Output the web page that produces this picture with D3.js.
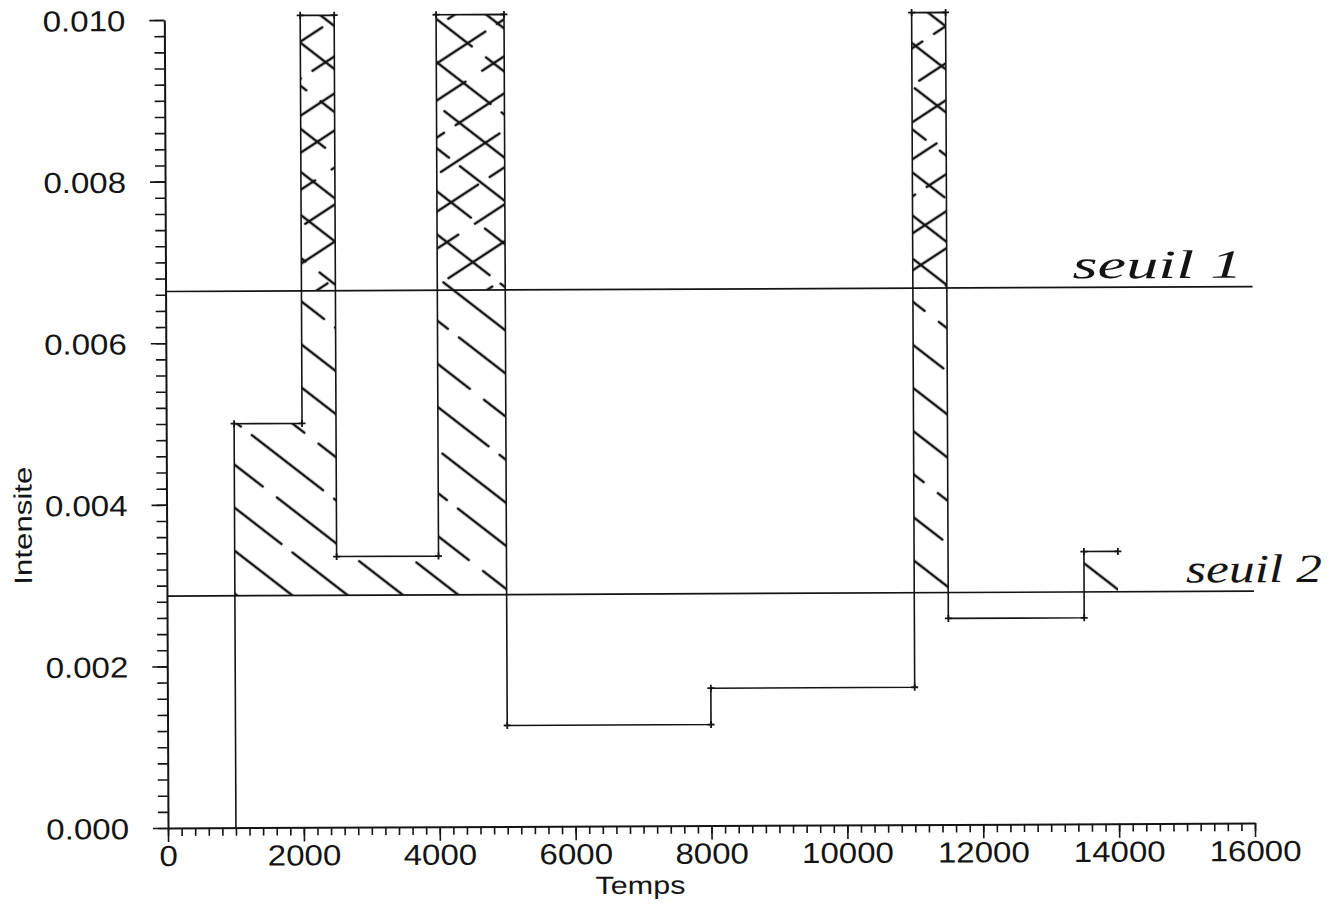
<!DOCTYPE html>
<html>
<head>
<meta charset="utf-8">
<script src="https://cdn.jsdelivr.net/npm/d3@7"></script>
<style>
  html, body { margin: 0; padding: 0; background: #fff; }
  svg { display: block; }
</style>
</head>
<body>
<svg id="chart" width="1335" height="909"></svg>
<script>
// Step signal: each level holds from its start time to its end time.
const stepStart = [1000, 2000, 2500, 4000, 5000, 8000, 11000, 11500, 13500];
const stepEnd   = [2000, 2500, 4000, 5000, 8000, 11000, 11500, 13500, 14000];
// The three peaks run past the frame and are stopped at its ceiling.
const stepLevel = [0.0050, 0.01005, 0.00335, 0.01005, 0.00125, 0.00170, 0.01005, 0.00255, 0.00337];

// Thresholds
const thresholdValues = [0.00664, 0.00287];
const thresholdNames  = ["seuil 1", "seuil 2"];

// Axis ticks
const xMajorTicks = [0, 2000, 4000, 6000, 8000, 10000, 12000, 14000, 16000];
const yMajorTicks = [0, 0.002, 0.004, 0.006, 0.008, 0.010];

const ink = "#141414";
const labelFont = "'Liberation Sans', Arial, sans-serif";
const handFont = "'Liberation Serif', 'DejaVu Serif', serif";
const stretch = 1.14;

const x = d3.scaleLinear().domain([0, 16000]).range([168, 1255]);
const y = d3.scaleLinear().domain([0, 0.010]).range([828, 20]);

const xMinorTicks = d3.range(0, 16001, 200);
const yMinorTicks = d3.range(0, 0.01001, 0.0002);

const svg = d3.select("#chart");
svg.append("rect").attr("width", 1335).attr("height", 909).attr("fill", "#fff");

// Hatch patterns: "\" for the zone above seuil 2, "/" added above seuil 1
const defs = svg.append("defs");
const hatchBack = defs.append("pattern")
  .attr("id", "hatch-back")
  .attr("patternUnits", "userSpaceOnUse")
  .attr("width", 104).attr("height", 68)
  .attr("patternTransform", "rotate(38)");
hatchBack.append("path")
  .attr("d", "M6,17H92 M52,51H104 M0,51H38")
  .attr("stroke", ink).attr("stroke-width", 2.6).attr("stroke-linecap", "round");

const hatchFwd = defs.append("pattern")
  .attr("id", "hatch-fwd")
  .attr("patternUnits", "userSpaceOnUse")
  .attr("width", 90).attr("height", 62)
  .attr("patternTransform", "rotate(-33)");
hatchFwd.append("path")
  .attr("d", "M8,15H78 M46,46H90 M0,46H32")
  .attr("stroke", ink).attr("stroke-width", 2.6).attr("stroke-linecap", "round");

// The whole sheet sits slightly tilted
const root = svg.append("g")
  .attr("transform", `rotate(-0.26, ${x(0)}, ${y(0)})`);

const steps = stepStart.map((t, i) => ({ t0: t, t1: stepEnd[i], v: stepLevel[i] }));
const stepPoints = steps.map(d => [d.t0, d.v]).concat([[steps[steps.length - 1].t1, steps[steps.length - 1].v]]);

// Hatched zones
function zone(limit) {
  return d3.area()
    .curve(d3.curveStepAfter)
    .x(d => x(d[0]))
    .y0(y(limit))
    .y1(d => y(Math.max(d[1], limit)));
}
root.append("path")
  .attr("d", zone(thresholdValues[1])(stepPoints))
  .attr("fill", "url(#hatch-back)");
root.append("path")
  .attr("d", zone(thresholdValues[0])(stepPoints))
  .attr("fill", "url(#hatch-fwd)");

// Axes: minor ticks
root.append("g")
  .attr("transform", `translate(0,${y(0)})`)
  .call(d3.axisBottom(x).tickValues(xMinorTicks).tickSize(8).tickFormat("").tickSizeOuter(0))
  .call(g => g.select(".domain").remove());
root.append("g")
  .attr("transform", `translate(${x(0)},0)`)
  .call(d3.axisLeft(y).tickValues(yMinorTicks).tickSize(10).tickFormat("").tickSizeOuter(0))
  .call(g => g.select(".domain").remove());

// Axes: major ticks and labels
const gx = root.append("g")
  .attr("transform", `translate(0,${y(0)})`)
  .call(d3.axisBottom(x).tickValues(xMajorTicks).tickSize(14).tickFormat(d3.format("d")).tickSizeOuter(0));
gx.selectAll("text")
  .attr("y", 38).attr("dy", 0)
  .attr("transform", `scale(${stretch},1)`);

const gy = root.append("g")
  .attr("transform", `translate(${x(0)},0)`)
  .call(d3.axisLeft(y).tickValues(yMajorTicks).tickSize(15).tickFormat(d3.format(".3f")).tickSizeOuter(0));
gy.selectAll("text")
  .attr("x", -39 / stretch).attr("dy", "0.36em")
  .attr("transform", `scale(${stretch},1)`);

[gx, gy].forEach(g => {
  g.selectAll("text")
    .attr("fill", ink)
    .style("font-family", labelFont)
    .style("font-size", "29px");
  g.select(".domain").attr("stroke", ink).attr("stroke-width", 2);
});
root.selectAll(".tick line").attr("stroke", ink).attr("stroke-width", 1.6);

// Axis titles
root.append("text")
  .attr("transform", `translate(${x(0) - 135},${y(0.00375)}) rotate(-90) scale(1.25,1)`)
  .attr("text-anchor", "middle")
  .attr("fill", ink)
  .style("font-family", labelFont)
  .style("font-size", "25px")
  .text("Intensite");

root.append("text")
  .attr("transform", `translate(${x(6950)},${y(0) + 68}) scale(1.22,1)`)
  .attr("text-anchor", "middle")
  .attr("fill", ink)
  .style("font-family", labelFont)
  .style("font-size", "25px")
  .text("Temps");

// Threshold lines
root.append("g").selectAll("line")
  .data(thresholdValues)
  .join("line")
  .attr("x1", x(0)).attr("x2", x(16000))
  .attr("y1", d => y(d)).attr("y2", d => y(d))
  .attr("stroke", ink).attr("stroke-width", 1.7);

// Step signal
const line = d3.line().x(d => x(d[0])).y(d => y(d[1]));
const path = [[steps[0].t0, 0]];
steps.forEach(d => { path.push([d.t0, d.v]); path.push([d.t1, d.v]); });
root.append("path")
  .attr("d", line(path))
  .attr("fill", "none")
  .attr("stroke", ink)
  .attr("stroke-width", 1.6);

// Vertex markers
const vertices = steps.flatMap(d => [[d.t0, d.v], [d.t1, d.v]]);
root.append("g").selectAll("path")
  .data(vertices)
  .join("path")
  .attr("transform", d => `translate(${x(d[0])},${y(d[1])})`)
  .attr("d", "M-3.5,0H3.5M0,-3.5V3.5")
  .attr("stroke", ink)
  .attr("stroke-width", 1.8);

// Hand-written threshold names
const nameAnchor = [
  { t: 13350, dy: -9, len: 170 },
  { t: 15000, dy: -9, len: 136 }
];
root.append("g").selectAll("text")
  .data(thresholdNames)
  .join("text")
  .attr("x", (d, i) => x(nameAnchor[i].t))
  .attr("y", (d, i) => y(thresholdValues[i]) + nameAnchor[i].dy)
  .attr("textLength", (d, i) => nameAnchor[i].len)
  .attr("lengthAdjust", "spacingAndGlyphs")
  .attr("fill", ink)
  .style("font-family", handFont)
  .style("font-style", "italic")
  .style("font-size", "40px")
  .text(d => d);
</script>
</body>
</html>
